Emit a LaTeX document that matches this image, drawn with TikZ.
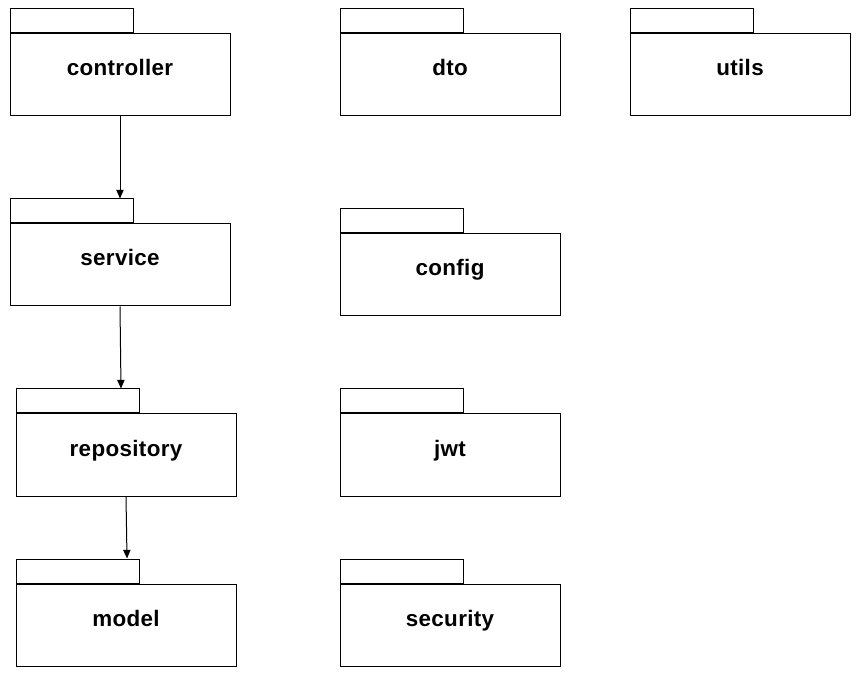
\documentclass[tikz,border=0pt]{standalone}
\usepackage{fontspec}
\setmainfont{Liberation Sans}
\newfontfamily\pkgfont[LetterSpace=1.5]{Liberation Sans}
\usetikzlibrary{arrows.meta}
\begin{document}
\begin{tikzpicture}[x=0.75pt,y=-0.75pt,
  pkgbody/.style={draw=black,line width=0.75pt,minimum width=165pt,minimum height=61.5pt,inner sep=0pt,fill=white},
  pkgtab/.style={draw=black,line width=0.75pt,minimum width=92.25pt,minimum height=18pt,inner sep=0pt,anchor=south west},
  pkgtext/.style={font=\pkgfont\bfseries\fontsize{16.8}{20}\selectfont,anchor=base,inner sep=0pt},
  dep/.style={draw=black,line width=0.75pt,-{Triangle[length=6.5pt,width=5.5pt]}}]
\useasboundingbox (0,0) rectangle (861,677);
\fill[white] (0,0) rectangle (861,677);
\newcommand{\pkg}[4]{%
  \node[pkgbody] (#1) at (#2,#3) {};
  \node[pkgtab] (#1tab) at (#1.north west) {};
  \node[pkgtext] (#1label) at ([yshift=-0.75pt]#1.center) {#4};
}
\pkg{controller}{120}{75}{controller}
\pkg{dto}{450}{75}{dto}
\pkg{utils}{740}{75}{utils}
\pkg{service}{120}{265}{service}
\pkg{config}{450}{275}{config}
\pkg{repository}{126}{455}{repository}
\pkg{jwt}{450}{455}{jwt}
\pkg{model}{126}{625}{model}
\pkg{security}{450}{625}{security}
\draw[dep] (controller.south) -- (controller.south |- servicetab.north);
\draw[dep] (service.south) -- ([xshift=0.75pt]service.south |- repositorytab.north);
\draw[dep] (repository.south) -- ([xshift=0.75pt]repository.south |- modeltab.north);
\end{tikzpicture}
\end{document}
